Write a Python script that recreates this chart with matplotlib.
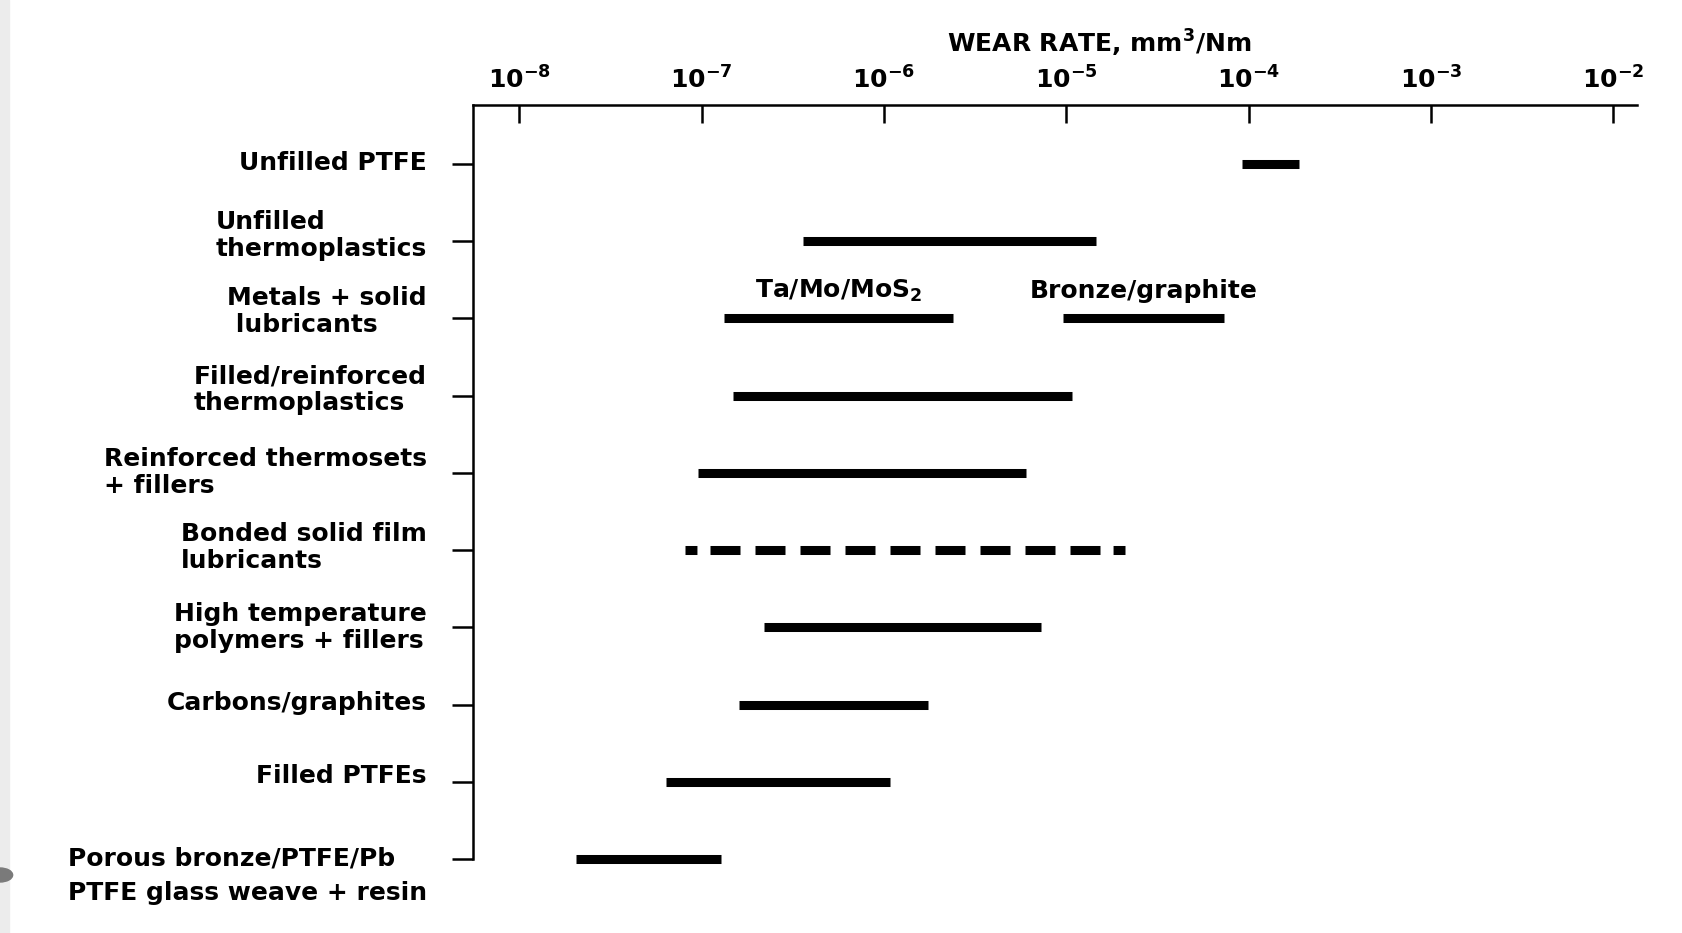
import matplotlib
matplotlib.use("Agg")
import matplotlib.pyplot as plt
import matplotlib.transforms as mtransforms
from matplotlib.patches import Rectangle, Circle

# categories, top to bottom
categories = [
    "Unfilled PTFE",
    "Unfilled\nthermoplastics",
    "Metals + solid\n lubricants",
    "Filled/reinforced\nthermoplastics",
    "Reinforced thermosets\n+ fillers",
    "Bonded solid film\nlubricants",
    "High temperature\npolymers + fillers",
    "Carbons/graphites",
    "Filled PTFEs",
    "Porous bronze/PTFE/Pb\nPTFE glass weave + resin",
]

# wear-rate ranges (mm^3/Nm), one entry per bar
range_cat = [0, 1, 2, 2, 3, 4, 5, 6, 7, 8, 9]
range_lo = [9.2e-5, 3.6e-7, 1.33e-7, 9.6e-6, 1.48e-7, 9.5e-8, 8.1e-8, 2.2e-7, 1.6e-7, 6.4e-8, 2.05e-8]
range_hi = [1.9e-4, 1.45e-5, 2.4e-6, 7.3e-5, 1.07e-5, 6.0e-6, 2.2e-5, 7.3e-6, 1.74e-6, 1.08e-6, 1.28e-7]
range_note = ["", "", "Ta/Mo/MoS$_2$", "Bronze/graphite", "", "", "", "", "", "", ""]
dashed_cat = [5]

exponents = [-8, -7, -6, -5, -4, -3, -2]
tick_labels = ["$10^{%d}$" % e for e in exponents]

# layout tweaks for the row labels (pixels, + is up) and line spacing
label_dy = [1, 6, 7, 6, 0, 3, 0, 2, 6, -17]
label_ls = [1.15] * 9 + [1.55]

plt.rcParams["font.family"] = "DejaVu Sans"
plt.rcParams["font.weight"] = "bold"
plt.rcParams["mathtext.fontset"] = "dejavusans"
plt.rcParams["mathtext.default"] = "bf"
plt.rcParams["lines.scale_dashes"] = False

FS = 18

fig = plt.figure(figsize=(16.83, 9.33), dpi=100)
fig.patches.append(Rectangle((0, 0), 9 / 1683, 1, transform=fig.transFigure,
                             color="#ececec", zorder=0))
fig.patches.append(Circle((0, 1 - 875 / 933), 0.0075, transform=fig.transFigure,
                          color="#7a7a7a", zorder=0))

ax = fig.add_axes([0.2810, 0.0793, 0.6916, 0.8082])
ax.set_xscale("log")
ax.set_xlim(10 ** -8.255, 10 ** -1.87)
ax.set_ylim(9, -0.764)

for s in ["right", "bottom"]:
    ax.spines[s].set_visible(False)
for s in ["left", "top"]:
    ax.spines[s].set_linewidth(1.8)

# top axis ticks
ax.xaxis.set_ticks_position("top")
ax.set_xticks([10.0 ** e for e in exponents])
ax.set_xticklabels(tick_labels)
ax.xaxis.set_minor_locator(matplotlib.ticker.NullLocator())
ax.tick_params(axis="x", direction="in", length=13, width=1.8, pad=8, labelsize=FS)

# left ticks, labels drawn as text
ax.set_yticks(range(len(categories)))
ax.set_yticklabels([])
ax.tick_params(axis="y", direction="out", length=15, width=1.8)

base = mtransforms.blended_transform_factory(ax.transAxes, ax.transData)
for i, lab in enumerate(categories):
    tr = mtransforms.offset_copy(base, fig=fig, x=0, y=label_dy[i], units="dots")
    ax.text(-0.0395, i, lab, transform=tr, ha="right", va="center",
            multialignment="left", linespacing=label_ls[i], fontsize=FS)

# dash pattern for the bonded film row: dot, dashes, dot (points)
dash_seq = [8.6, 9.4] + [21.6, 10.8] * 8 + [21.6, 9.4, 8.6, 400]

for c, lo, hi, note in zip(range_cat, range_lo, range_hi, range_note):
    if c in dashed_cat:
        ax.plot([lo, hi], [c, c], color="black", lw=6.5, dashes=dash_seq,
                dash_capstyle="butt", solid_capstyle="butt", clip_on=False)
    else:
        ax.hlines(c, lo, hi, color="black", lw=6.5, capstyle="butt", clip_on=False)
    if note:
        ax.annotate(note, xy=((lo * hi) ** 0.5, c), xytext=(0, 19.5),
                    textcoords="offset points", ha="center", va="center",
                    fontsize=FS)

ax.text(0.538, 1.082, "WEAR RATE, mm$^3$/Nm", transform=ax.transAxes,
        ha="center", va="center", fontsize=FS)

fig.savefig("out.png", dpi=100)
